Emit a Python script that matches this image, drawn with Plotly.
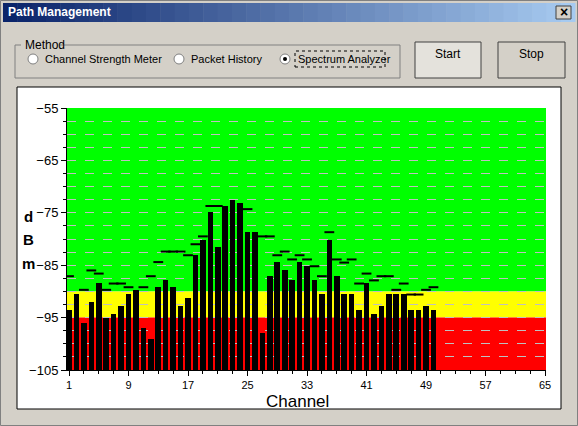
import plotly.graph_objects as go

W, H = 578, 426
# plot area in window pixels
L, R, T, B = 67, 546, 108, 370

channels = list(range(1, 51))
level = [-93.5, -90.5, -96.0, -92.0, -88.4, -95.1, -94.3, -92.8, -90.5, -89.7,
         -97.0, -99.1, -89.2, -87.8, -89.2, -92.8, -91.3, -83.1, -80.2, -74.9,
         -81.5, -73.7, -72.6, -73.1, -78.7, -78.7, -98.0, -87.1, -84.4, -85.9,
         -87.8, -84.4, -85.2, -87.8, -90.5, -80.2, -87.1, -90.5, -90.5, -93.5,
         -88.4, -94.3, -92.8, -90.5, -90.5, -90.5, -93.5, -93.5, -92.8, -93.5]
peak = [-87.1, None, -89.7, -86.0, -86.6, -89.7, -88.5, -88.5, -89.2, None,
        -89.2, -87.1, -84.4, -82.4, -82.4, -82.4, -83.1, -81.0, -79.5, -73.7,
        -73.7, None, None, None, -74.3, None, -79.5, -79.5, -83.1, -82.4,
        -83.9, -83.1, -83.9, -85.2, -87.1, -78.7, -83.9, -84.5, -83.9, -88.5,
        -86.6, -87.9, -87.1, -87.1, -89.7, -88.5, -90.6, -90.6, -89.7, -89.2]
y_ticks = [-55, -65, -75, -85, -95, -105]
x_ticks = [1, 9, 17, 25, 33, 41, 49, 57, 65]
bands = [(-90, -55, '#00FF00'), (-95, -90, '#FFFF00'), (-105, -95, '#FF0000')]


def px(x):
    return (x - L) / (R - L)


def py(y):
    return (B - y) / (B - T)


fig = go.Figure()
fig.add_trace(go.Bar(x=channels, y=[v + 105 for v in level], base=-105, width=0.75,
                     marker=dict(color='black', line_width=0), hoverinfo='skip'))
fig.add_trace(go.Scatter(x=channels, y=peak, mode='markers',
                         marker=dict(symbol='line-ew', size=7, line=dict(width=2, color='black'))))

shapes = []
# title bar gradient
n = 40
for i in range(n):
    f = i / (n - 1)
    c = (int(10 + f * (166 - 10)), int(36 + f * (202 - 36)), int(106 + f * (240 - 106)))
    shapes.append(dict(type='rect', xref='paper', yref='paper',
                       x0=px(3 + i * (W - 6) / n), x1=px(3 + (i + 1) * (W - 6) / n + 0.5),
                       y0=py(22), y1=py(3), fillcolor='rgb(%d,%d,%d)' % c, line_width=0, layer='below'))
# outer window edge
shapes.append(dict(type='rect', xref='paper', yref='paper', x0=px(0.5), x1=px(W - 0.5), y0=py(H - 0.5), y1=py(0.5),
                   line=dict(color='#808080', width=1), layer='below'))
# close button
shapes.append(dict(type='rect', xref='paper', yref='paper', x0=px(556), x1=px(571), y0=py(19), y1=py(6),
                   fillcolor='#D4D0C8', line=dict(color='#404040', width=1), layer='below'))
# group box
shapes.append(dict(type='rect', xref='paper', yref='paper', x0=px(15), x1=px(400), y0=py(78), y1=py(45),
                   line=dict(color='#808080', width=1), layer='below'))
shapes.append(dict(type='rect', xref='paper', yref='paper', x0=px(21), x1=px(60), y0=py(48), y1=py(40),
                   fillcolor='#D4D0C8', line_width=0, layer='below'))
# buttons
for x0, x1, fill in [(415, 481, '#E4E2DC'), (498, 565, '#D4D0C8')]:
    shapes.append(dict(type='rect', xref='paper', yref='paper', x0=px(x0), x1=px(x1), y0=py(78), y1=py(42),
                       fillcolor=fill, line=dict(color='#404040', width=1), layer='below'))
# radio buttons
for cx in [33, 179, 285]:
    shapes.append(dict(type='circle', xref='paper', yref='paper', x0=px(cx - 5), x1=px(cx + 5),
                       y0=py(64), y1=py(54), fillcolor='white', line=dict(color='#808080', width=1), layer='below'))
shapes.append(dict(type='circle', xref='paper', yref='paper', x0=px(283), x1=px(287), y0=py(61), y1=py(57),
                   fillcolor='black', line_width=0, layer='below'))
shapes.append(dict(type='rect', xref='paper', yref='paper', x0=px(295), x1=px(385), y0=py(67), y1=py(51),
                   line=dict(color='black', width=1, dash='dot'), layer='below'))
# chart panel
shapes.append(dict(type='rect', xref='paper', yref='paper', x0=px(17), x1=px(561), y0=py(409), y1=py(87),
                   fillcolor='white', line=dict(color='black', width=1), layer='below'))
# colour bands
for y0, y1, col in bands:
    shapes.append(dict(type='rect', xref='x', yref='y', x0=0.73, x1=65.13, y0=y0, y1=y1,
                       fillcolor=col, line_width=0, layer='below'))

ann = [
    dict(text='<b>Path Management</b>', x=px(6), y=py(12), xanchor='left',
         font=dict(color='white', size=12)),
    dict(text='<b>×</b>', x=px(563.5), y=py(12.5), font=dict(color='black', size=14)),
    dict(text='Method', x=px(23), y=py(45), xanchor='left', font=dict(size=12)),
    dict(text='Channel Strength Meter', x=px(43), y=py(59), xanchor='left', font=dict(size=11)),
    dict(text='Packet History', x=px(189), y=py(59), xanchor='left', font=dict(size=11)),
    dict(text='Spectrum Analyzer', x=px(296), y=py(59), xanchor='left', font=dict(size=11)),
    dict(text='Start', x=px(448), y=py(54), font=dict(size=12)),
    dict(text='Stop', x=px(531.5), y=py(54), font=dict(size=12)),
    dict(text='Channel', x=px(297), y=py(401), font=dict(size=17)),
]
for i, ch in enumerate(['d', 'B', 'm']):
    ann.append(dict(text='<b>' + ch + '</b>', x=px(28), y=py(216 + 23.5 * i), font=dict(size=15)))
for a in ann:
    a.update(xref='paper', yref='paper', showarrow=False, yanchor='middle')
    a.setdefault('xanchor', 'center')
    a['font'].setdefault('family', 'Liberation Sans')
    a['font'].setdefault('color', 'black')

fig.update_layout(
    width=W, height=H, margin=dict(l=L, r=W - R, t=T, b=H - B),
    paper_bgcolor='#D4D0C8', plot_bgcolor='rgba(0,0,0,0)', showlegend=False,
    shapes=shapes, annotations=ann, bargap=0,
    font=dict(family='Liberation Sans', color='black', size=12),
    xaxis=dict(range=[0.73, 65.13], tickvals=x_ticks, ticks='outside', ticklen=5, tickcolor='black',
               showgrid=False, zeroline=False, showline=True, linecolor='black',
               minor=dict(dtick=2, tick0=1, ticks='outside', ticklen=3, tickcolor='black'),
               tickfont=dict(size=11)),
    yaxis=dict(range=[-105, -55], tickvals=y_ticks, ticks='outside', ticklen=5, tickcolor='black',
               showgrid=True, gridcolor='#C0C0C0', griddash='dash', gridwidth=1,
               zeroline=False, showline=True, linecolor='black', tickfont=dict(size=13),
               minor=dict(dtick=2.5, tick0=-105, ticks='outside', ticklen=3, tickcolor='black',
                          showgrid=True, gridcolor='#C0C0C0', griddash='dash')),
)

fig.write_html("out.html", config={'displayModeBar': False},
               post_script="document.body.style.margin='0';")
